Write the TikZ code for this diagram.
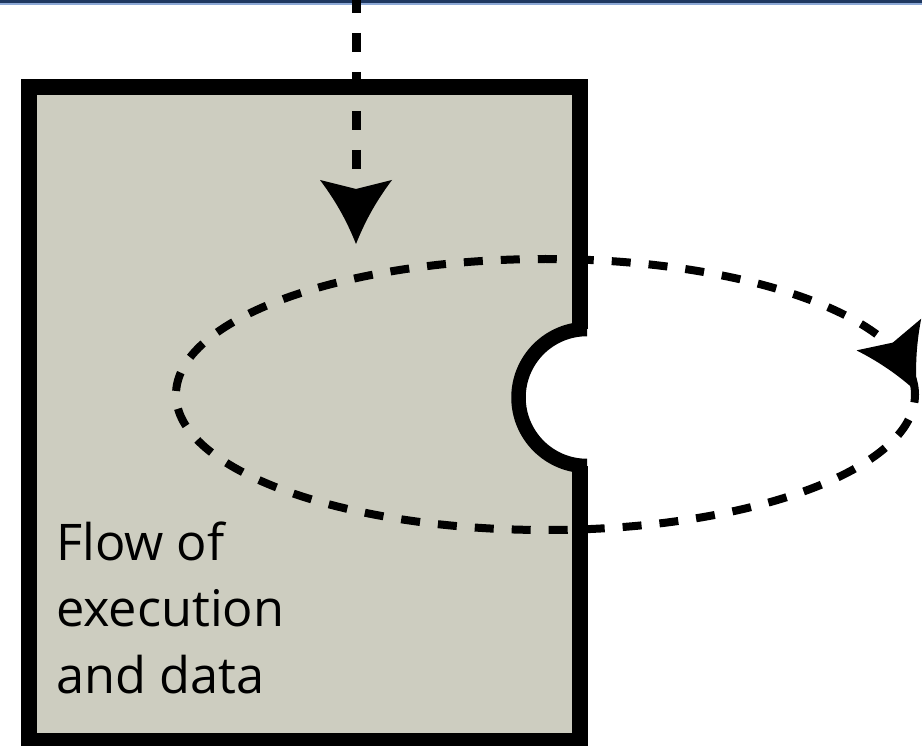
\documentclass[tikz,border=0pt]{standalone}
\usepackage{fontspec}
\setmainfont{Open Sans}
\definecolor{panelfill}{RGB}{205,205,192}
\definecolor{barnavy}{RGB}{31,56,96}
\definecolor{barlight}{RGB}{141,169,214}
\tikzset{
  panel/.style={draw=black, fill=panelfill, line width=16pt, rectangle,
    inner sep=0pt, outer sep=0pt, minimum width=551pt, minimum height=654pt},
  flowdash/.style={draw=black, line width=9pt, dash pattern=on 19.5pt off 19.5pt},
  loopdash/.style={draw=black, line width=8pt, dash pattern=on 19pt off 18pt},
  notchline/.style={draw=black, line width=14.5pt},
  caption/.style={font=\fontsize{50.5}{66.5}\selectfont, align=left,
    inner sep=0pt, anchor=base west},
  headtip/.pic={
    \fill[black] (0,0) .. controls (-20,8) and (-40,18) .. (-64,36)
      -- (-55,0) -- (-64,-36) .. controls (-40,-18) and (-20,-8) .. (0,0) -- cycle;
  }
}
\begin{document}
\begin{tikzpicture}[x=1pt, y=-1pt]
  \useasboundingbox (0,0) rectangle (922,746);
  \clip (0,0) rectangle (922,746);
  \fill[white] (0,0) rectangle (922,746);

  % header rule
  \fill[barnavy] (0,0) rectangle (922,3);
  \fill[barlight] (0,3) rectangle (922,5);

  % incoming flow, drawn first so the panel's edge lies over it
  \coordinate (vtop) at (356,-6);
  \coordinate (vend) at (356,170);
  \draw[flowdash] (vtop) -- (vend);

  % the panel
  \node[panel] (box) at (304.5,414) {};

  % semicircular notch cut into the right edge
  \coordinate (ntop) at (587,329);
  \coordinate (nbot) at (587,466);
  \fill[white] (572,329) rectangle (590,466);
  \fill[white] (ntop) arc[start angle=90, end angle=270, radius=68.5pt] -- cycle;
  \draw[notchline] (ntop) arc[start angle=90, end angle=270, radius=68.5pt];

  % re-draw the dashes that lie inside the panel
  \begin{scope}
    \clip (37,95) rectangle (572,733);
    \draw[flowdash] (vtop) -- (vend);
  \end{scope}
  \pic at (356,244) [rotate=-90] {headtip};

  % loop of execution
  \coordinate (loopc) at (545.5,394.5);
  \draw[loopdash] (loopc) ellipse [x radius=369.5pt, y radius=135.5pt];
  \pic at (917,392) [rotate=-63.9] {headtip};

  % label (the base anchor sits on the last line)
  \node[caption] (label) at (56,693) {Flow of\\execution\\and data};
\end{tikzpicture}
\end{document}
